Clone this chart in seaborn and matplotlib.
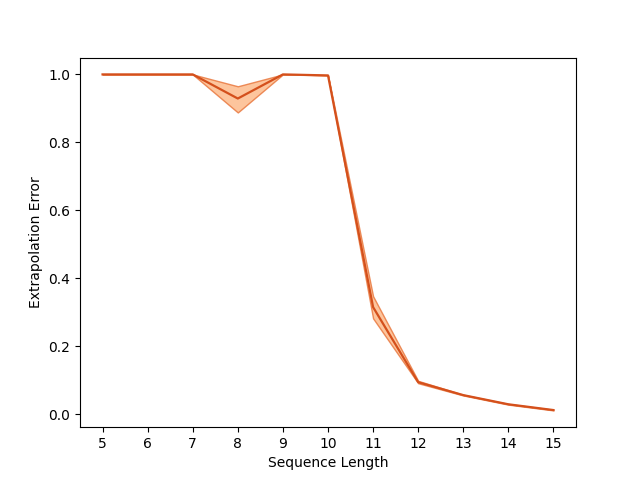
import seaborn as sns
import matplotlib.pyplot as plt

seq_len = [5, 6, 7, 8, 9, 10, 11, 12, 13, 14, 15]
err_mean = [1.0, 1.0, 1.0, 0.929, 1.0, 0.997, 0.315, 0.094, 0.056, 0.029, 0.012]
err_low = [1.0, 1.0, 1.0, 0.888, 1.0, 0.997, 0.282, 0.091, 0.055, 0.028, 0.011]
err_high = [1.0, 1.0, 1.0, 0.965, 1.0, 0.998, 0.347, 0.098, 0.057, 0.030, 0.013]

fig, ax = plt.subplots(figsize=(6.4, 4.8), dpi=100)
# shaded band with a thin darker outline, like the reference
ax.fill_between(seq_len, err_low, err_high, facecolor=(0.992, 0.553, 0.235, 0.5),
                edgecolor=(0.91, 0.45, 0.22, 0.8), linewidth=1)
sns.lineplot(x=seq_len, y=err_mean, color="#d4501c", linewidth=1.6, ax=ax)
ax.set_xticks(seq_len)
ax.set_xlabel("Sequence Length")
ax.set_ylabel("Extrapolation Error")
plt.savefig("out.png")
